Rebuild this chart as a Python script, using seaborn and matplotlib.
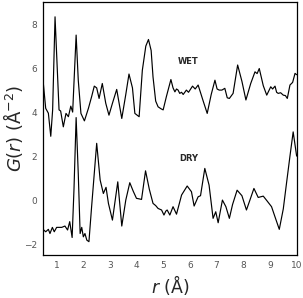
import numpy as np
import pandas as pd
import seaborn as sns
import matplotlib.pyplot as plt

# G(r), two samples
wet_r = [0.5, 0.6, 0.7, 0.79, 0.86, 0.95, 1.03, 1.1, 1.16, 1.26, 1.36, 1.45, 1.54, 1.61,
         1.74, 1.82, 1.92, 2.05, 2.2, 2.32, 2.42, 2.51, 2.6, 2.72, 2.85, 2.97, 3.1, 3.26,
         3.45, 3.6, 3.72, 3.85, 3.94, 4.1, 4.22, 4.35, 4.45, 4.55, 4.62, 4.72, 4.81, 4.92,
         5.0, 5.12, 5.29, 5.37, 5.44, 5.5, 5.56, 5.62, 5.69, 5.75, 5.87, 5.95, 6.1, 6.2,
         6.31, 6.5, 6.65, 6.8, 6.94, 7.02, 7.1, 7.2, 7.31, 7.4, 7.48, 7.62, 7.79, 7.95,
         8.1, 8.28, 8.44, 8.52, 8.6, 8.75, 8.88, 9.03, 9.1, 9.19, 9.25, 9.31, 9.4, 9.5,
         9.58, 9.65, 9.75, 9.85, 9.94, 10.0]
wet_g = [5.45, 4.17, 3.95, 2.9, 4.1, 8.33, 6.06, 4.1, 4.05, 3.33, 3.94, 3.79, 4.27, 4.0,
         7.5, 5.45, 3.94, 3.6, 4.17, 4.7, 5.18, 5.1, 4.62, 5.3, 4.4, 3.86, 4.4, 5.03,
         3.71, 4.8, 5.73, 5.1, 3.94, 3.79, 5.9, 7.0, 7.3, 6.8, 5.6, 4.5, 4.24, 4.15,
         4.1, 4.7, 5.48, 5.1, 4.92, 5.05, 5.0, 4.85, 4.9, 4.8, 5.0, 4.9, 5.18, 5.05,
         5.23, 4.5, 3.94, 4.8, 5.45, 5.05, 5.0, 5.0, 5.08, 4.65, 4.62, 4.85, 6.14, 5.4,
         4.55, 5.3, 5.83, 5.75, 5.98, 5.2, 4.77, 5.15, 5.05, 5.18, 4.9, 4.85, 4.88, 4.77,
         4.75, 4.62, 5.23, 5.35, 5.76, 5.7]

dry_r = [0.5, 0.6, 0.7, 0.76, 0.85, 0.92, 1.01, 1.2, 1.32, 1.42, 1.5, 1.59, 1.66, 1.74,
         1.82, 1.89, 1.95, 2.01, 2.07, 2.14, 2.22, 2.32, 2.51, 2.64, 2.76, 2.86, 2.95,
         3.1, 3.3, 3.45, 3.6, 3.75, 3.88, 4.0, 4.12, 4.19, 4.34, 4.48, 4.62, 4.72, 4.81,
         4.94, 5.03, 5.1, 5.15, 5.25, 5.37, 5.5, 5.69, 5.9, 6.06, 6.16, 6.31, 6.4, 6.56,
         6.72, 6.87, 6.97, 7.06, 7.22, 7.35, 7.48, 7.6, 7.77, 7.95, 8.12, 8.25, 8.4, 8.56,
         8.75, 8.9, 9.06, 9.2, 9.35, 9.5, 9.62, 9.75, 9.87, 10.0]
dry_g = [-1.33, -1.44, -1.33, -1.52, -1.24, -1.44, -1.24, -1.24, -1.18, -1.36, -0.98,
         -1.7, 0.5, 3.75, 1.2, -1.52, -1.24, -1.67, -1.52, -1.82, -1.89, -0.3, 2.58,
         0.91, 0.3, 0.58, -0.15, -0.91, 0.83, -1.18, 0.0, 0.79, 0.4, 0.08, 0.05, 0.03,
         1.33, 0.5, -0.15, -0.25, -0.38, -0.45, -0.68, -0.5, -0.45, -0.68, -0.3, -0.64,
         0.23, 0.64, 0.38, -0.27, 0.15, 0.2, 1.44, 0.68, -0.83, -0.53, -1.03, 0.0, -0.3,
         -0.83, -0.2, 0.45, 0.2, -0.45, 0.0, 0.53, 0.12, 0.18, -0.05, -0.3, -0.8, -1.33,
         -0.4, 0.76, 2.0, 3.1, 2.0]

x_ticks = [1, 2, 3, 4, 5, 6, 7, 8, 9, 10]
y_ticks = [-2, 0, 2, 4, 6, 8]

sns.set_style("white")
plt.rcParams['font.family'] = ['DejaVu Sans']

fig = plt.figure(figsize=(3.03, 2.98), dpi=100)
ax = fig.add_axes([0.142, 0.144, 0.837, 0.849])

wet = pd.DataFrame({'r': wet_r, 'G': wet_g})
dry = pd.DataFrame({'r': dry_r, 'G': dry_g})
sns.lineplot(data=wet, x='r', y='G', ax=ax, color='black', lw=0.85, sort=False)
sns.lineplot(data=dry, x='r', y='G', ax=ax, color='black', lw=0.85, sort=False)

ax.text(5.92, 6.3, 'WET', fontsize=6, fontweight='bold', ha='center', va='center')
ax.text(5.97, 1.9, 'DRY', fontsize=6, fontweight='bold', ha='center', va='center')

ax.set_xlim(0.5, 10)
ax.set_ylim(-2.5, 9)
ax.set_xticks(x_ticks)
ax.set_yticks(y_ticks)
ax.tick_params(direction='in', length=3, width=0.8, labelsize=6.5,
               labelcolor='#555555', color='black', pad=4)
for s in ax.spines.values():
    s.set_color('black')
    s.set_linewidth(0.9)

ax.set_xlabel('$r$ (Å)', fontsize=12.5)
ax.set_ylabel('$G(r)$ (Å$^{-2}$)', fontsize=13)
ax.xaxis.set_label_coords(0.5, -0.07)
ax.yaxis.set_label_coords(-0.07, 0.5)

fig.savefig('out.png', dpi=100)
